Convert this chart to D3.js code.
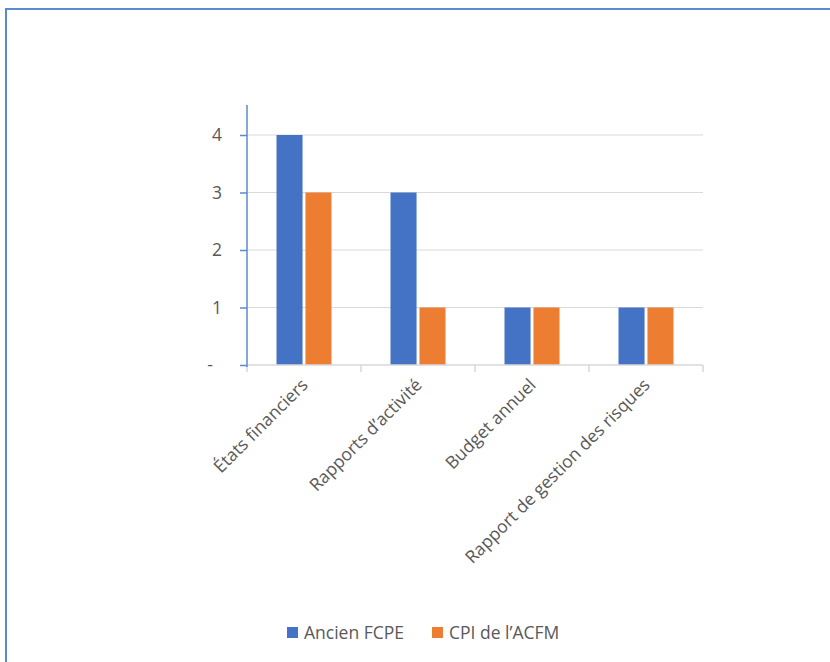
<!DOCTYPE html>
<html>
<head>
<meta charset="utf-8">
<script src="https://cdn.jsdelivr.net/npm/d3@7"></script>
<style>
  body { margin: 0; background: #fff; }
  svg { font-family: "Open Sans", "Noto Sans", sans-serif; }
</style>
</head>
<body>
<svg id="chart" width="830" height="662"></svg>
<script>
// Data
const categories = ['États financiers', 'Rapports d’activité', 'Budget annuel', 'Rapport de gestion des risques'];
const series = ['Ancien FCPE', 'CPI de l’ACFM'];
const ancienFcpe = [4, 3, 1, 1];
const cpiAcfm = [3, 1, 1, 1];
const yTicks = [0, 1, 2, 3, 4];
const colors = ['#4472C4', '#ED7D31'];

const values = [ancienFcpe, cpiAcfm];
const svg = d3.select('#chart');

// Outer frame (runs off the bottom/right of the view)
svg.append('rect')
    .attr('x', 6).attr('y', 9)
    .attr('width', 1000).attr('height', 800)
    .attr('fill', 'none')
    .attr('stroke', '#5B8BCF')
    .attr('stroke-width', 2);

// Scales
const x0 = d3.scaleBand().domain(categories).range([247, 703]);
const x1 = d3.scaleBand().domain(series).range([29.5, 84.5]).paddingInner(0.1);
const y = d3.scaleLinear().domain([0, 4]).range([365, 135]);

// Gridlines
svg.append('g')
    .selectAll('line')
    .data(yTicks.filter(d => d > 0))
    .enter()
    .append('line')
    .attr('x1', 247).attr('x2', 703)
    .attr('y1', d => y(d)).attr('y2', d => y(d))
    .attr('stroke', '#D9D9D9')
    .attr('stroke-width', 1);

// Bars
const groups = svg.append('g')
    .selectAll('g')
    .data(categories)
    .enter()
    .append('g')
    .attr('transform', d => `translate(${x0(d)},0)`);

groups.selectAll('rect')
    .data((d, i) => series.map((s, j) => ({ s, v: values[j][i], j })))
    .enter()
    .append('rect')
    .attr('x', d => x1(d.s))
    .attr('width', x1.bandwidth())
    .attr('y', d => y(d.v))
    .attr('height', d => y(0) - y(d.v))
    .attr('fill', d => colors[d.j]);

// X axis (grey, ticks at category boundaries)
const xAxis = svg.append('g');
xAxis.append('line')
    .attr('x1', 247).attr('x2', 703)
    .attr('y1', y(0)).attr('y2', y(0))
    .attr('stroke', '#D9D9D9').attr('stroke-width', 1.5);
xAxis.selectAll('line.tick')
    .data(categories.map(c => x0(c)).concat([x0.range()[1]]))
    .enter()
    .append('line')
    .attr('class', 'tick')
    .attr('x1', d => d).attr('x2', d => d)
    .attr('y1', y(0)).attr('y2', y(0) + 7)
    .attr('stroke', '#D9D9D9').attr('stroke-width', 1.5);

xAxis.selectAll('text')
    .data(categories)
    .enter()
    .append('text')
    .attr('transform', d => `translate(${x0(d) + x0.bandwidth() / 2 + 5},${y(0) + 21}) rotate(-45)`)
    .attr('text-anchor', 'end')
    .attr('font-size', '17.5px')
    .attr('fill', '#595959')
    .text(d => d);

// Y axis (blue line, ticks outward)
const yAxis = svg.append('g')
    .attr('transform', 'translate(247,0)')
    .call(d3.axisLeft(y)
        .tickValues(yTicks)
        .tickSize(7)
        .tickPadding(18)
        .tickFormat(d => d === 0 ? '-' : d));
yAxis.select('.domain').remove();
yAxis.append('line')
    .attr('x1', 0).attr('x2', 0)
    .attr('y1', 105).attr('y2', y(0) + 2)
    .attr('stroke', '#5B8BCF').attr('stroke-width', 1.5);
yAxis.selectAll('.tick line').attr('stroke', '#5B8BCF').attr('stroke-width', 1.5);
yAxis.selectAll('.tick text')
    .attr('font-size', '17.5px')
    .attr('font-family', '"Open Sans", sans-serif')
    .attr('fill', '#595959')
    .attr('dx', d => d === 0 ? -9 : 0);

// Legend
const legend = svg.append('g');
const legendX = [287, 432];
series.forEach((s, i) => {
    legend.append('rect')
        .attr('x', legendX[i]).attr('y', 627)
        .attr('width', 11).attr('height', 11)
        .attr('fill', colors[i]);
    legend.append('text')
        .attr('x', legendX[i] + 17).attr('y', 639)
        .attr('font-size', '17.5px')
        .attr('fill', '#595959')
        .text(s);
});
</script>
</body>
</html>
